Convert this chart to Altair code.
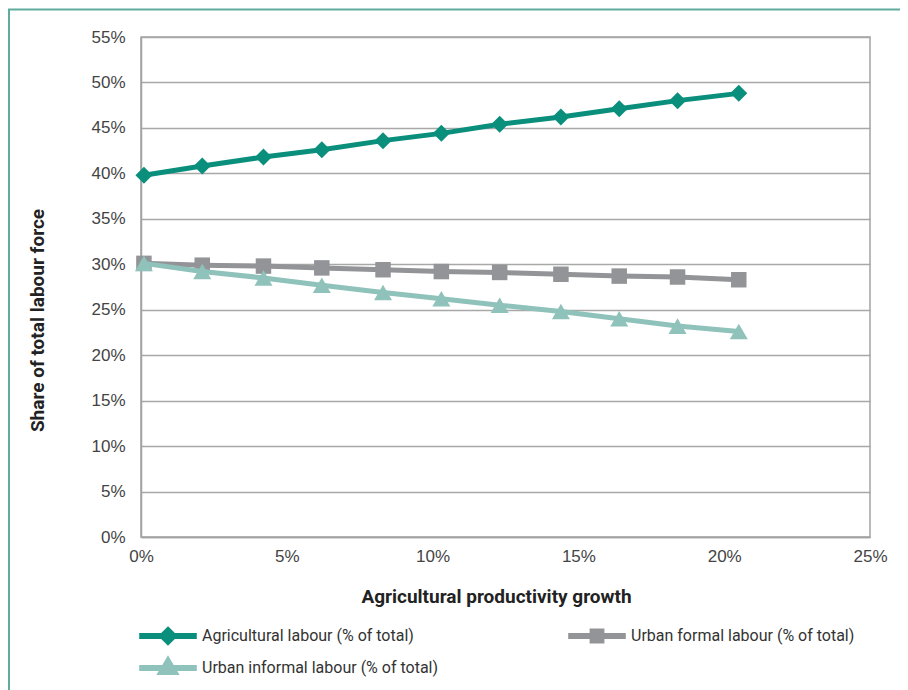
import altair as alt
import pandas as pd

# ---- data ----
growth = [0.1, 2.1, 4.2, 6.2, 8.3, 10.3, 12.3, 14.4, 16.4, 18.4, 20.5]
agri = [39.8, 40.8, 41.8, 42.6, 43.6, 44.4, 45.4, 46.2, 47.1, 48.0, 48.8]
formal = [30.1, 29.9, 29.8, 29.6, 29.4, 29.2, 29.1, 28.9, 28.7, 28.6, 28.3]
informal = [30.1, 29.2, 28.5, 27.7, 26.9, 26.2, 25.5, 24.8, 24.0, 23.2, 22.6]
series = [
    "Agricultural labour (% of total)",
    "Urban formal labour (% of total)",
    "Urban informal labour (% of total)",
]
colors = ["#0a8f7c", "#939497", "#8fc2ba"]
shapes = ["diamond", "square", "triangle-up"]
marker_sizes = [289, 240, 324]
y_ticks = list(range(0, 56, 5))
x_ticks = list(range(0, 26, 5))

rows = []
for name, vals in zip(series, [agri, formal, informal]):
    for g, v in zip(growth, vals):
        rows.append({"growth": g, "share": v, "series": name})
df = pd.DataFrame(rows)

# legend symbols: line segment + marker (custom paths, unit = 8px)
leg_paths = [
    "M-3.6,0L3.6,0M0,-0.7L0.7,0L0,0.7L-0.7,0Z",
    "M-3.6,0L3.6,0M-0.55,-0.55L0.55,-0.55L0.55,0.55L-0.55,0.55Z",
    "M-3.6,0L3.6,0M0,-0.85L0.8,0.5L-0.8,0.5Z",
]
legend_pos = [(16, 588), (445, 588), (16, 620)]

x_enc = alt.X(
    "growth:Q",
    scale=alt.Scale(domain=[0, 25], nice=False),
    axis=alt.Axis(
        values=x_ticks,
        labelExpr="datum.value + '%'",
        title="Agricultural productivity growth",
        titleX=355,
        titleY=59,
        titleBaseline="middle",
        titleAlign="center",
        grid=False,
        ticks=False,
        labelFlush=False,
        labelPadding=11,
    ),
)
y_enc = alt.Y(
    "share:Q",
    scale=alt.Scale(domain=[0, 55], nice=False),
    axis=alt.Axis(
        values=y_ticks,
        labelExpr="datum.value + '%'",
        title="Share of total labour force",
        titleAngle=270,
        titleX=-104,
        titleY=283,
        titleBaseline="middle",
        titleAlign="center",
        ticks=False,
        labelPadding=16,
    ),
)

base = alt.Chart(df)
layers = []
for i, name in enumerate(series):
    sub = base.transform_filter(alt.datum.series == name)
    line = sub.mark_line(strokeWidth=5).encode(
        x=x_enc,
        y=y_enc,
        order="growth:Q",
        color=alt.Color(
            "series:N",
            title=None,
            scale=alt.Scale(domain=[name], range=[colors[i]]),
            legend=alt.Legend(
                orient="none",
                legendX=legend_pos[i][0],
                legendY=legend_pos[i][1],
                symbolType=leg_paths[i],
                symbolSize=256,
                symbolStrokeWidth=6,
                symbolFillColor=colors[i],
                symbolStrokeColor=colors[i],
                symbolOpacity=1,
                labelOffset=23,
                labelFontSize=16,
                labelLimit=0,
                labelFont="Roboto",
                labelColor="#333333",
                padding=0,
            ),
        ),
    )
    pts = sub.mark_point(
        filled=True, opacity=1, shape=shapes[i], size=marker_sizes[i], color=colors[i]
    ).encode(x="growth:Q", y="share:Q")
    layers += [line, pts]

frame = alt.Chart(alt.Data(values=[{"a": 1}])).mark_rect(
    fill=None, stroke="#5fab9d", strokeWidth=2
).encode(
    x=alt.value(-132),
    x2=alt.value(900),
    y=alt.value(-27.5),
    y2=alt.value(800),
)
layers.append(frame)

chart = (
    alt.layer(*layers)
    .resolve_scale(color="independent")
    .resolve_legend(color="independent")
    .properties(
        width=729,
        height=500,
        autosize=alt.AutoSizeParams(type="none"),
        padding={"left": 133, "top": 29, "right": 30, "bottom": 153},
    )
    .configure_view(stroke="#a3a3a3", strokeWidth=1.5)
    .configure_axis(
        domainColor="#a3a3a3",
        domainWidth=1.5,
        gridColor="#a8a8a8",
        gridWidth=1.5,
        labelFont="Liberation Sans, sans-serif",
        labelFontSize=17,
        labelColor="#444444",
        titleFont="Roboto",
        titleFontSize=19,
        titleFontWeight="bold",
        titleColor="#222222",
    )
)

chart.save("out.html", embed_options={"renderer": "svg", "actions": False})
